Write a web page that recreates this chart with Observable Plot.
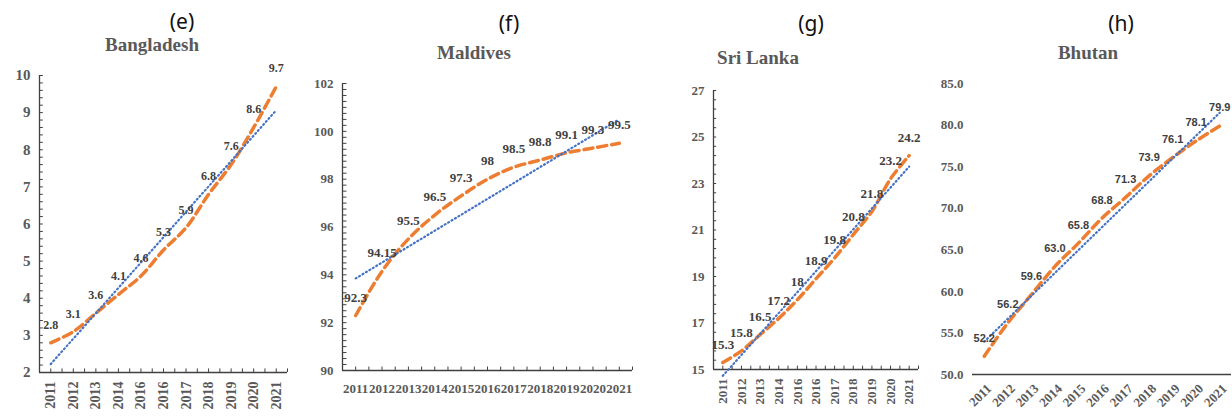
<!DOCTYPE html>
<html>
<head>
<meta charset="utf-8">
<script src="https://cdn.jsdelivr.net/npm/d3@7"></script>
<script src="https://cdn.jsdelivr.net/npm/@observablehq/plot@0.6"></script>
<style>
  html, body { margin: 0; padding: 0; background: #fff; }
  #root { position: relative; width: 1232px; height: 417px; overflow: hidden; background: #fff; }
  .panel { position: absolute; top: 0; }
  .lbl { position: absolute; transform: translate(-50%, -50%); white-space: nowrap; line-height: 1; }
  .letter { font-family: "Noto Sans", "Open Sans", sans-serif; font-size: 21px; color: #111; }
  .country { font-family: "Liberation Serif", "DejaVu Serif", serif; font-weight: bold; font-size: 19px; color: #595959; }
</style>
</head>
<body>
<div id="root"></div>
<script>
// ---- data ----
const yearsBangladesh = ["2011","2012","2013","2014","2016","2016","2017","2018","2019","2020","2021"];
const valuesBangladesh = [2.8, 3.1, 3.6, 4.1, 4.6, 5.3, 5.9, 6.8, 7.6, 8.6, 9.7];

const yearsMaldives = ["2011","2012","2013","2014","2015","2016","2017","2018","2019","2020","2021"];
const valuesMaldives = [92.3, 94.15, 95.5, 96.5, 97.3, 98, 98.5, 98.8, 99.1, 99.3, 99.5];

const yearsSriLanka = ["2011","2012","2013","2014","2016","2016","2017","2018","2019","2020","2021"];
const valuesSriLanka = [15.3, 15.8, 16.5, 17.2, 18, 18.9, 19.8, 20.8, 21.8, 23.2, 24.2];

const yearsBhutan = ["2011","2012","2013","2014","2015","2016","2017","2018","2019","2020","2021"];
const valuesBhutan = [52.2, 56.2, 59.6, 63.0, 65.8, 68.8, 71.3, 73.9, 76.1, 78.1, 79.9];

const ticksBangladesh = [2, 3, 4, 5, 6, 7, 8, 9, 10];
const ticksMaldives = [90, 92, 94, 96, 98, 100, 102];
const ticksSriLanka = [15, 17, 19, 21, 23, 25, 27];
const ticksBhutan = [50, 55, 60, 65, 70, 75, 80, 85];

const ORANGE = "#ED7D31";
const BLUE = "#4472C4";
const SERIF = "Liberation Serif, DejaVu Serif, serif";
const SANS = "Liberation Sans, Arial, sans-serif";

const panels = [
  {left: 0, width: 300, mL: 39, mR: 13, mT: 75, mB: 45, years: yearsBangladesh, values: valuesBangladesh,
   ticks: ticksBangladesh, minorStep: 0.2, yFmt: d => String(d), yFont: 15, xMode: "v", xFont: 14,
   dFont: 12, dFamily: SERIF, dFmt: d => String(d), axisLeft: true,
   letter: "(e)", lx: 182, ly: 21, name: "Bangladesh", nx: 152, ny: 44},
  {left: 300, width: 340, mL: 42, mR: 8, mT: 83, mB: 47, years: yearsMaldives, values: valuesMaldives,
   ticks: ticksMaldives, minorStep: 0.25, yFmt: d => String(d), yFont: 13, xMode: "h", xFont: 13,
   dFont: 13, dFamily: SERIF, dFmt: d => String(d), axisLeft: true,
   letter: "(f)", lx: 509, ly: 23, name: "Maldives", nx: 474, ny: 52},
  {left: 640, width: 290, mL: 73, mR: 12, mT: 90, mB: 48, years: yearsSriLanka, values: valuesSriLanka,
   ticks: ticksSriLanka, minorStep: 0.4, yFmt: d => String(d), yFont: 13, xMode: "v", xFont: 13,
   dFont: 13, dFamily: SERIF, dFmt: d => String(d), axisLeft: true,
   letter: "(g)", lx: 811, ly: 23, name: "Sri Lanka", nx: 758, ny: 57},
  {left: 930, width: 302, mL: 42, mR: 1, mT: 83, mB: 43, years: yearsBhutan, values: valuesBhutan,
   ticks: ticksBhutan, minorStep: null, yFmt: d3.format(".1f"), yFont: 13, xMode: "d", xFont: 13,
   dFont: 11, dFamily: SANS, dFmt: d3.format(".1f"), axisLeft: false,
   letter: "(h)", lx: 1121, ly: 23, name: "Bhutan", nx: 1088, ny: 52}
];

const root = document.getElementById("root");

for (const p of panels) {
  const yMin = p.ticks[0], yMax = p.ticks[p.ticks.length - 1];
  const marks = [];

  // axis lines
  marks.push(Plot.ruleY([yMin], {stroke: "#404040", strokeWidth: 1.3}));
  if (p.axisLeft) {
    marks.push(Plot.ruleX([-0.5], {stroke: "#404040", strokeWidth: 1.3}));
    // minor inward ticks on y axis
    const minor = d3.range(yMin, yMax + 1e-9, p.minorStep);
    marks.push(Plot.ruleY(minor, {y: d => d, x1: -0.5, x2: -0.5 + 0.17, stroke: "#404040", strokeWidth: 1}));
    // small inward ticks on x axis (half-category spacing)
    const xt = d3.range(0, p.years.length * 2 + 1).map(k => -0.5 + k / 2);
    marks.push(Plot.ruleX(xt, {x: d => d, y1: yMin, y2: yMin + (yMax - yMin) * 0.012, stroke: "#404040", strokeWidth: 1}));
  }

  // y tick labels
  marks.push(Plot.text(p.ticks, {y: d => d, text: p.yFmt, frameAnchor: "left", dx: -9, textAnchor: "end",
    fontSize: p.yFont, fontWeight: "bold", fontFamily: SERIF, fill: "#595959"}));

  // x tick labels
  if (p.xMode === "v") {
    marks.push(Plot.text(p.years, {x: (d, i) => i, text: d => d, frameAnchor: "bottom", dy: 9, rotate: -90,
      textAnchor: "end", lineAnchor: "middle", fontSize: p.xFont, fontWeight: "bold", fontFamily: SERIF, fill: "#595959"}));
  } else if (p.xMode === "h") {
    marks.push(Plot.text(p.years, {x: (d, i) => i, text: d => d, frameAnchor: "bottom", dy: 18,
      lineAnchor: "middle", fontSize: p.xFont, fontWeight: "bold", fontFamily: SERIF, fill: "#595959"}));
  } else {
    marks.push(Plot.text(p.years, {x: (d, i) => i, text: d => d, frameAnchor: "bottom", dy: 12, dx: 5, rotate: -45,
      textAnchor: "end", lineAnchor: "middle", fontSize: p.xFont, fontWeight: "bold", fontFamily: SERIF, fill: "#595959"}));
  }

  // data line (smoothed, dashed orange)
  marks.push(Plot.line(p.values, {x: (d, i) => i, y: d => d, curve: "catmull-rom", stroke: ORANGE,
    strokeWidth: 3.5, strokeDasharray: "9,5"}));
  // linear trend (dotted blue)
  marks.push(Plot.linearRegressionY(p.values, {x: (d, i) => i, y: d => d, ci: 0, stroke: BLUE,
    strokeWidth: 2.2, strokeDasharray: "1,3", strokeLinecap: "round"}));
  // data labels
  marks.push(Plot.text(p.values, {x: (d, i) => i, y: d => d, text: p.dFmt, dy: -18,
    fontSize: p.dFont, fontWeight: "bold", fontFamily: p.dFamily, fill: "#404040"}));

  const svg = Plot.plot({
    width: p.width,
    height: 417,
    marginLeft: p.mL, marginRight: p.mR, marginTop: p.mT, marginBottom: p.mB,
    x: {domain: [-0.5, p.years.length - 0.5], axis: null},
    y: {domain: [yMin, yMax], axis: null},
    style: {background: "transparent", overflow: "visible"},
    marks
  });
  const wrap = document.createElement("div");
  wrap.className = "panel";
  wrap.style.left = p.left + "px";
  wrap.appendChild(svg);
  root.appendChild(wrap);

  const l = document.createElement("div");
  l.className = "lbl letter";
  l.style.left = p.lx + "px"; l.style.top = p.ly + "px";
  l.textContent = p.letter;
  root.appendChild(l);
  const n = document.createElement("div");
  n.className = "lbl country";
  n.style.left = p.nx + "px"; n.style.top = p.ny + "px";
  n.textContent = p.name;
  root.appendChild(n);
}
</script>
</body>
</html>
